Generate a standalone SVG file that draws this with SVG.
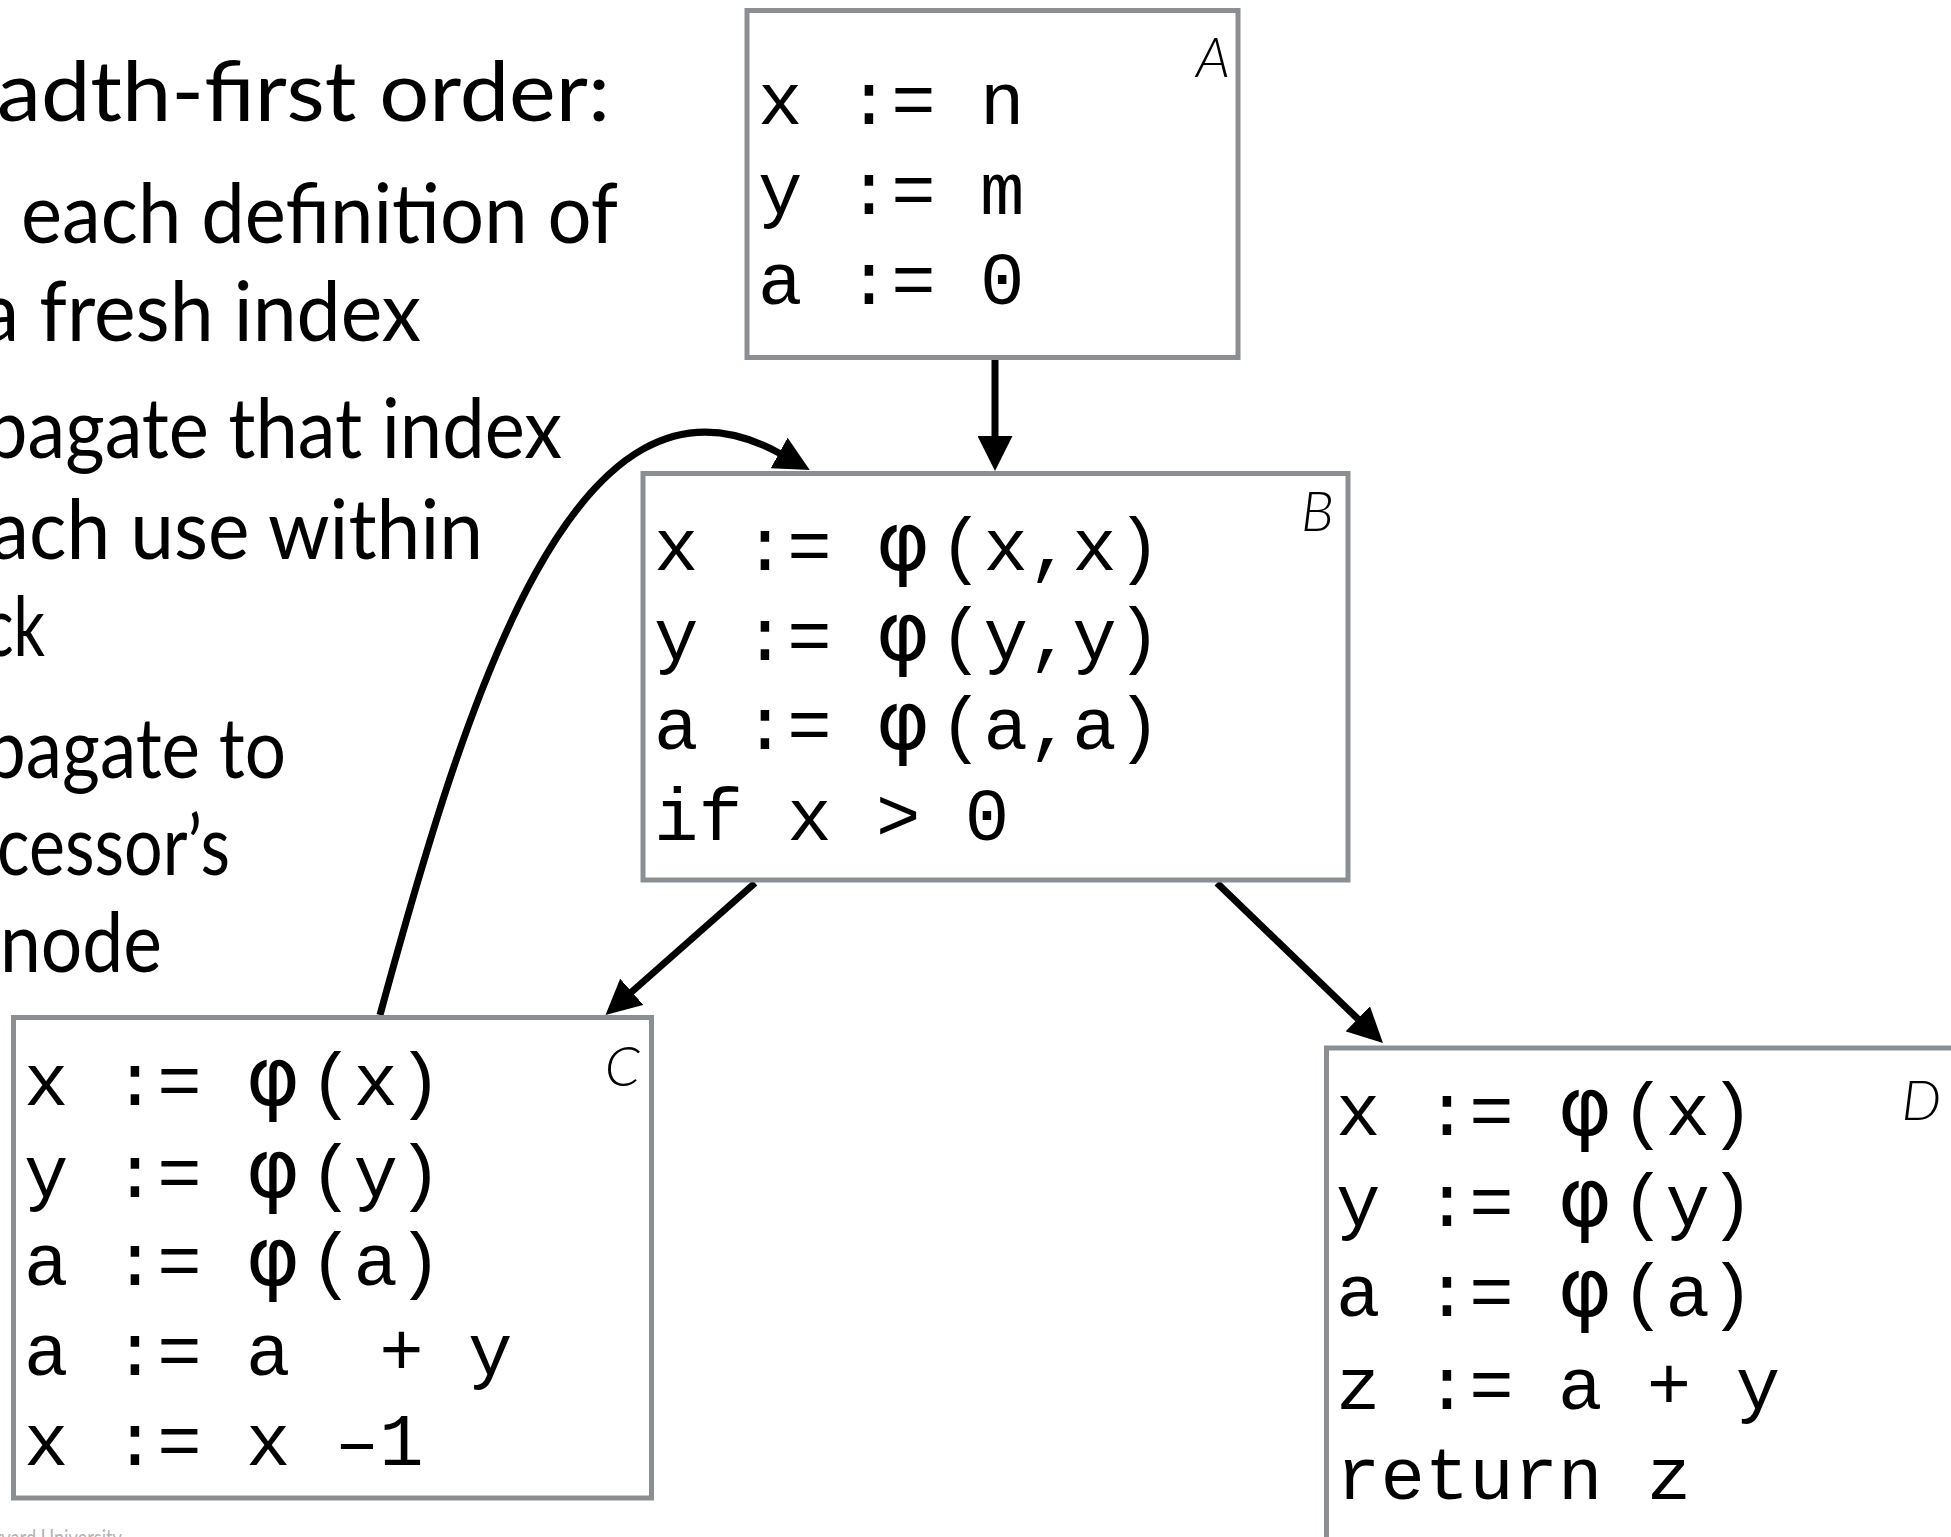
<svg xmlns="http://www.w3.org/2000/svg" width="1951" height="1537" viewBox="0 0 1951 1537">
<defs>
<style>
.box{fill:#fff;stroke:#8b8e92;stroke-width:5}
.code{font-family:"Liberation Mono","Courier New",monospace;font-size:74px;fill:#000}
.phi{font-family:"DejaVu Sans",sans-serif;font-size:82px}
.lbl{font-family:Lato,"Open Sans",sans-serif;font-style:italic;font-weight:300;font-size:56px;text-anchor:end;fill:#000}
.body{font-family:Lato,"Open Sans",sans-serif;font-weight:400;font-size:84px;fill:#000;text-anchor:end}
.edge{fill:none;stroke:#000;stroke-width:7;marker-end:url(#ah)}
.foot{font-family:Lato,"Open Sans",sans-serif;font-size:23px;fill:#b4b4b4;text-anchor:end}
</style>
<marker id="ah" markerUnits="userSpaceOnUse" markerWidth="35" markerHeight="35" viewBox="0 0 35 35" refX="1" refY="17.5" orient="auto">
<path d="M0,0 L35,17.5 L0,35 z" fill="#000"/>
</marker>
</defs>
<rect width="1951" height="1537" fill="#fff"/>

<g id="slide-text">
<text class="body" x="610" y="121" textLength="613" lengthAdjust="spacingAndGlyphs">adth-first order:</text>
<text class="body" x="618" y="243" textLength="597" lengthAdjust="spacingAndGlyphs">each definition of</text>
<text class="body" x="421" y="341" textLength="441" lengthAdjust="spacingAndGlyphs">a fresh index</text>
<text class="body" x="562" y="458" textLength="577" lengthAdjust="spacingAndGlyphs">pagate that index</text>
<text class="body" x="483" y="559" textLength="493" lengthAdjust="spacingAndGlyphs">ach use within</text>
<text class="body" x="45" y="656" textLength="61" lengthAdjust="spacingAndGlyphs">ck</text>
<text class="body" x="286" y="778" textLength="301" lengthAdjust="spacingAndGlyphs">pagate to</text>
<text class="body" x="230" y="875" textLength="233" lengthAdjust="spacingAndGlyphs">cessor’s</text>
<text class="body" x="162" y="972" textLength="162" lengthAdjust="spacingAndGlyphs">node</text>
<text class="foot" x="122" y="1546" textLength="150" lengthAdjust="spacingAndGlyphs">Harvard University</text>
</g>

<g id="connectors">
<path class="edge" d="M995,360 L995,437"/>
<path class="edge" d="M755,883 L631,992.5"/>
<path class="edge" d="M1217,883 L1358.5,1019.5"/>
<path class="edge" d="M380,1015 C466,700 575,340 780,453.5"/>
</g>

<g id="node-A">
<rect class="box" x="747" y="10.5" width="491" height="347"/>
<text class="lbl" x="1230" y="77">A</text>
<text class="code" x="758" y="124">x := n</text>
<text class="code" x="758" y="214">y := m</text>
<text class="code" x="758" y="304">a := 0</text>
</g>

<g id="node-B">
<rect class="box" x="643" y="473.5" width="705" height="406.5"/>
<text class="lbl" x="1334" y="531">B</text>
<text class="code" y="570"><tspan x="654">x := </tspan><tspan class="phi" x="876">φ</tspan><tspan x="939">(x,x)</tspan></text>
<text class="code" y="660"><tspan x="654">y := </tspan><tspan class="phi" x="876">φ</tspan><tspan x="939">(y,y)</tspan></text>
<text class="code" y="749"><tspan x="654">a := </tspan><tspan class="phi" x="876">φ</tspan><tspan x="939">(a,a)</tspan></text>
<text class="code" x="654" y="840">if x &gt; 0</text>
</g>

<g id="node-C">
<rect class="box" x="13.5" y="1017.5" width="638" height="480.5"/>
<text class="lbl" x="640" y="1086">C</text>
<text class="code" y="1105"><tspan x="24">x := </tspan><tspan class="phi" x="246">φ</tspan><tspan x="309">(x)</tspan></text>
<text class="code" y="1197"><tspan x="24">y := </tspan><tspan class="phi" x="246">φ</tspan><tspan x="309">(y)</tspan></text>
<text class="code" y="1285"><tspan x="24">a := </tspan><tspan class="phi" x="246">φ</tspan><tspan x="309">(a)</tspan></text>
<text class="code" x="24" y="1375" xml:space="preserve">a := a  + y</text>
<text class="code" x="24" y="1465">x := x –1</text>
</g>

<g id="node-D">
<rect class="box" x="1326.5" y="1048" width="700" height="600"/>
<text class="lbl" x="1941" y="1120">D</text>
<text class="code" y="1135"><tspan x="1336">x := </tspan><tspan class="phi" x="1558">φ</tspan><tspan x="1621">(x)</tspan></text>
<text class="code" y="1226"><tspan x="1336">y := </tspan><tspan class="phi" x="1558">φ</tspan><tspan x="1621">(y)</tspan></text>
<text class="code" y="1316"><tspan x="1336">a := </tspan><tspan class="phi" x="1558">φ</tspan><tspan x="1621">(a)</tspan></text>
<text class="code" x="1336" y="1409">z := a + y</text>
<text class="code" x="1336" y="1499">return z</text>
</g>
</svg>
